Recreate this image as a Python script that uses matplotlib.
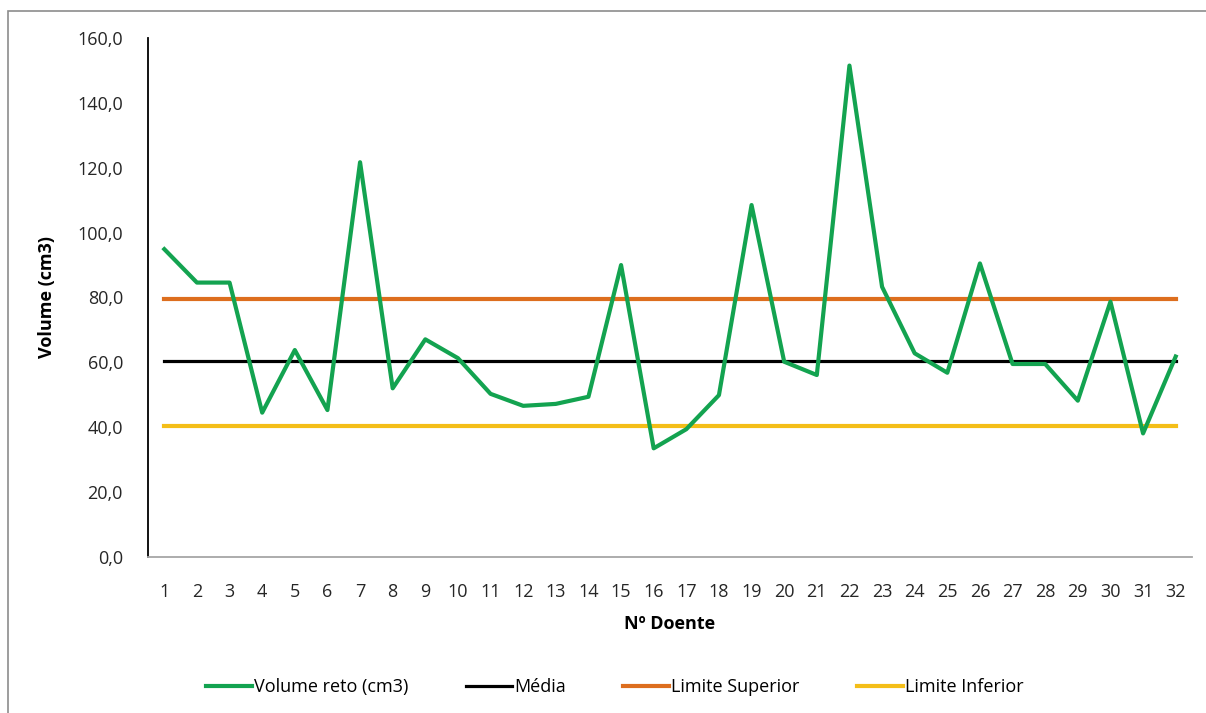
import numpy as np
import matplotlib
matplotlib.use("Agg")
import matplotlib.pyplot as plt
from matplotlib.patches import Rectangle
from matplotlib.ticker import FuncFormatter

# Rectal volume per patient with control limits
doentes = list(range(1, 33))
volume = [94.9, 84.6, 84.6, 44.5, 63.8, 45.3, 121.7, 52.0, 67.1, 61.3,
          50.3, 46.6, 47.2, 49.4, 90.0, 33.5, 39.4, 49.9, 108.5, 60.2,
          56.1, 151.5, 83.3, 62.8, 56.8, 90.5, 59.5, 59.5, 48.2, 78.7,
          38.1, 61.8]
media = 60.3
limite_sup = 79.5
limite_inf = 40.5

plt.rcParams['font.family'] = ['Open Sans', 'DejaVu Sans']

fig = plt.figure(figsize=(12.06, 7.13), dpi=100)
fig.patch.set_facecolor('white')

# outer chart frame
fig.patches.append(Rectangle((8 / 1206, -0.1), 1.2, 1 - 11 / 713 + 0.1,
                             transform=fig.transFigure, fill=False,
                             edgecolor='#8c8c8c', linewidth=1.2))

ax = fig.add_axes([148 / 1206, 1 - 557 / 713, (1192 - 148) / 1206, (557 - 38) / 713])

x = np.array(doentes)
ax.plot(x, volume, color='#13A350', linewidth=3.0, label='Volume reto (cm3)', zorder=4)
ax.plot(x, [media] * len(x), color='black', linewidth=2.3, label='Média', zorder=3)
ax.plot(x, [limite_sup] * len(x), color='#DD6E1E', linewidth=3.0, label='Limite Superior', zorder=3)
ax.plot(x, [limite_inf] * len(x), color='#F4BE18', linewidth=3.0, label='Limite Inferior', zorder=3)

ax.set_xlim(0.5, 32.5)
ax.set_ylim(0, 160)
ax.set_yticks(np.arange(0, 161, 20))
ax.yaxis.set_major_formatter(FuncFormatter(lambda v, p: f"{v:.1f}".replace('.', ',')))
ax.set_xticks(x)
ax.set_xticklabels([str(d) for d in doentes])

for s in ['top', 'right']:
    ax.spines[s].set_visible(False)
ax.spines['left'].set_color('black')
ax.spines['left'].set_linewidth(1.3)
ax.spines['bottom'].set_color('#A6A6A6')
ax.spines['bottom'].set_linewidth(1.3)

ax.tick_params(axis='both', length=0, labelsize=13, colors='#262626')
ax.tick_params(axis='y', pad=18)
ax.tick_params(axis='x', pad=19)

ax.set_ylabel('Volume (cm3)', fontsize=13, fontweight='bold', labelpad=15)
ax.set_xlabel('Nº Doente', fontsize=13, fontweight='bold', labelpad=10)

fig.legend(loc='center', bbox_to_anchor=(615 / 1206, 1 - 687 / 713), ncol=4,
           frameon=False, fontsize=13, handlelength=2.55, handletextpad=0.1,
           columnspacing=3.2)

fig.savefig('out.png', dpi=100, facecolor='white')
